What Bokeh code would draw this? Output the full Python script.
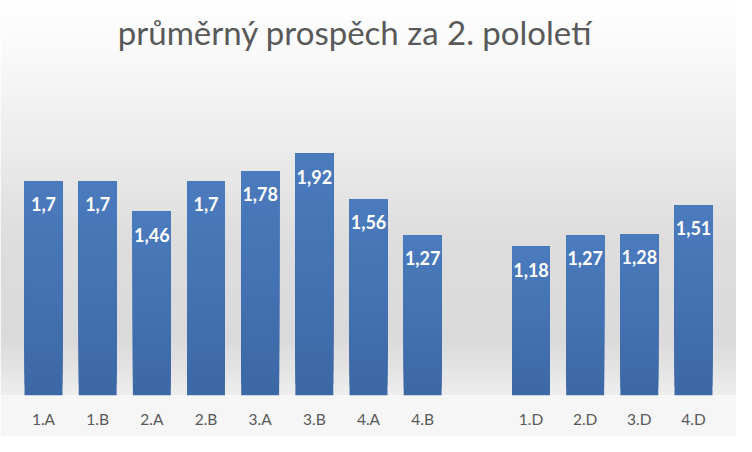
from bokeh.plotting import figure
from bokeh.models import FactorRange, Range1d, BoxAnnotation, Label, ColumnDataSource
from bokeh.embed import file_html
from bokeh.resources import INLINE
from bokeh.core.properties import value

title_text = "průměrný prospěch za 2. pololetí"
categories = ["1.A", "1.B", "2.A", "2.B", "3.A", "3.B", "4.A", "4.B", "1.D", "2.D", "3.D", "4.D"]
averages = [1.70, 1.70, 1.46, 1.70, 1.78, 1.92, 1.56, 1.27, 1.18, 1.27, 1.28, 1.51]
labels = ["1,7", "1,7", "1,46", "1,7", "1,78", "1,92", "1,56", "1,27", "1,18", "1,27", "1,28", "1,51"]
axis_factors = categories[:8] + [" "] + categories[8:]

W, H = 736, 436
BOTTOM = 41
frame_h = H - BOTTOM
PX_PER_UNIT = 126.0
y_end = frame_h / PX_PER_UNIT

x_range = FactorRange(factors=axis_factors, range_padding=0.294, range_padding_units="absolute")
p = figure(width=W, height=H, x_range=x_range, y_range=Range1d(0, y_end),
           output_backend="svg", toolbar_location=None,
           min_border_left=0, min_border_right=0, min_border_top=0, min_border_bottom=BOTTOM)
p.border_fill_color = "#f6f6f6"
p.background_fill_color = "#ffffff"
p.outline_line_color = None
p.grid.visible = False
p.yaxis.visible = False

# background gradient (screen-pixel stops -> bands)
stops = [(0, 255), (60, 248), (150, 235), (240, 221), (340, 218), (370, 228), (395, 238)]
def gray_at(yy):
    for (y0, g0), (y1, g1) in zip(stops[:-1], stops[1:]):
        if y0 <= yy <= y1:
            t = (yy - y0) / (y1 - y0)
            return g0 + (g1 - g0) * t
    return stops[-1][1]
step = 4
for top_px in range(0, frame_h, step):
    bot_px = min(top_px + step + 1, frame_h)
    g = int(round(gray_at((top_px + bot_px) / 2)))
    p.add_layout(BoxAnnotation(top=(frame_h - top_px) / PX_PER_UNIT, bottom=(frame_h - bot_px) / PX_PER_UNIT,
                               fill_color="#%02x%02x%02x" % (g, g, g), fill_alpha=1.0, line_color=None,
                               level="underlay"))

# bars with a vertical gradient: overlapping layers, each reaching the bar's own value
top_rgb = (0x4b, 0x7c, 0xbe)
bot_rgb = (0x3c, 0x67, 0xa5)
N = 20
seg = dict(x=[], top=[], bottom=[], color=[])
for k in range(N):
    t = (k + 0.5) / N
    c = "#%02x%02x%02x" % tuple(int(round(b + (a - b) * t)) for a, b in zip(top_rgb, bot_rgb))
    for cat, v in zip(categories, averages):
        seg["x"].append(cat)
        seg["bottom"].append(v * k / N)
        seg["top"].append(v)
        seg["color"].append(c)
p.vbar(x="x", top="top", bottom="bottom", width=0.7, source=ColumnDataSource(seg),
       fill_color="color", line_color=None)

src = ColumnDataSource(dict(x=categories, top=averages, label=labels))
p.text(x="x", y="top", text="label", source=src, text_color="white", text_font=value("Lato"),
       text_font_style="bold", text_font_size="18px", text_align="center", text_baseline="middle",
       y_offset=23)

p.xaxis.axis_line_color = None
p.xaxis.major_tick_line_color = None
p.xaxis.minor_tick_line_color = None
p.xaxis.major_label_text_font = "Lato"
p.xaxis.major_label_text_font_size = "15.5px"
p.xaxis.major_label_text_color = "#595959"
p.xaxis.major_label_standoff = 8

p.add_layout(Label(x=354.5, y=frame_h - 31, x_units="screen", y_units="screen", text=title_text,
                   text_font="Lato", text_font_size="33px", text_color="#595959",
                   text_align="center", text_baseline="middle"))

open("out.html", "w").write(file_html(p, INLINE))
